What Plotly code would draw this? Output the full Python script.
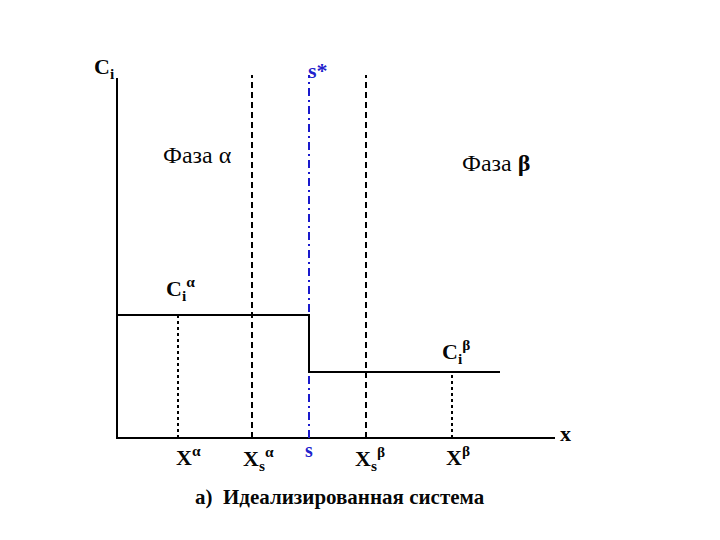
import plotly.graph_objects as go

# schematic coordinates (1 unit ~ 10 px), origin at axis corner
x_end = 43.8
y_top = 36.0
guide_top = 36.3

x_alpha = 6.1
xs_alpha = 13.5
s_pos = 19.2
xs_beta = 24.9
x_beta = 33.5
c_beta_end = 38.3

c_alpha = 12.3
c_beta = 6.6

BLACK = "#000000"
TEXT = "rgba(0,0,0,0.98)"
BLUE = "#1a1acc"
BLUE_TEXT = "rgba(26,26,204,0.98)"
FONT = "Liberation Serif"

fig = go.Figure()

def line(xs, ys, color=BLACK, dash="solid", width=2):
    fig.add_trace(go.Scatter(x=xs, y=ys, mode="lines", showlegend=False,
                             hoverinfo="skip",
                             line=dict(color=color, dash=dash, width=width)))

# axes
line([0, 0, x_end], [y_top, 0, 0])
# dashed phase boundaries
line([xs_alpha, xs_alpha], [0, guide_top], dash="6px,4px")
line([xs_beta, xs_beta], [0, guide_top], dash="6px,4px")
# interface s
line([s_pos, s_pos], [0, guide_top], color=BLUE, dash="8px,4px,2px,4px")
# concentration profile
line([0, s_pos, s_pos, c_beta_end], [c_alpha, c_alpha, c_beta, c_beta])
# dotted drops
line([x_alpha, x_alpha], [0, c_alpha], dash="dot")
line([x_beta, x_beta], [0, c_beta], dash="dot")

labels = [
    (-1.3, 37.0, "<b>C<sub>i</sub></b>", 22, TEXT),
    (s_pos + 0.9, 36.8, "<b>s*</b>", 22, BLUE_TEXT),
    (8.0, 28.3, "Фаза α", 24, TEXT),
    (37.9, 27.5, "Фаза <b>β</b>", 24, TEXT),
    (6.3, 15.0, "<b>C<sub>i</sub><sup>α</sup></b>", 22, TEXT),
    (33.9, 8.7, "<b>C<sub>i</sub><sup>β</sup></b>", 22, TEXT),
    (7.1, -1.8, "<b>X<sup>α</sup></b>", 22, TEXT),
    (14.1, -2.0, "<b>X<sub>s</sub><sup>α</sup></b>", 22, TEXT),
    (s_pos, -1.2, "<b>s</b>", 20, BLUE_TEXT),
    (25.3, -2.0, "<b>X<sub>s</sub><sup>β</sup></b>", 22, TEXT),
    (34.1, -1.8, "<b>X<sup>β</sup></b>", 22, TEXT),
    (44.8, 0.5, "<b>x</b>", 22, TEXT),
    (22.3, -5.9, "<b>а)  Идеализированная система</b>", 21, TEXT),
]
for x, y, t, size, col in labels:
    fig.add_annotation(x=x, y=y, text=t, showarrow=False,
                       font=dict(family=FONT, size=size, color=col))

# page body adds an 8px offset, so ranges are shifted to keep the reference position
fig.update_layout(
    width=720, height=540, autosize=False,
    font=dict(family=FONT),
    margin=dict(l=0, r=0, t=0, b=0),
    paper_bgcolor="white", plot_bgcolor="white",
    xaxis=dict(range=[-10.9, 61.1], visible=False, fixedrange=True),
    yaxis=dict(range=[-11.0, 43.0], visible=False, fixedrange=True),
)

fig.write_html("out.html")
